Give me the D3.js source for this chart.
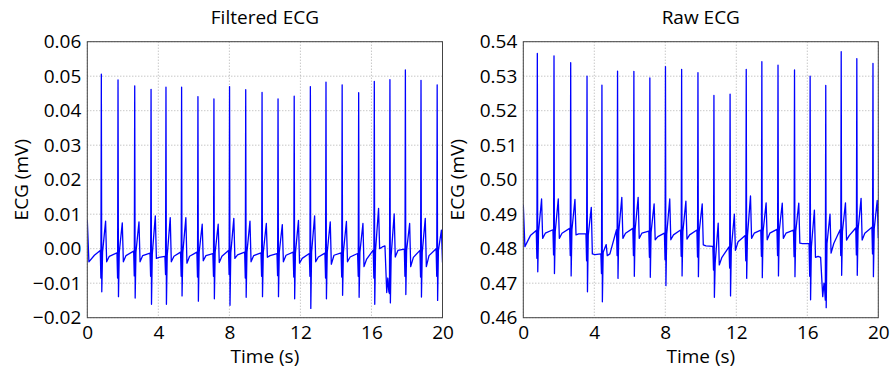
<!DOCTYPE html>
<html>
<head>
<meta charset="utf-8">
<script src="https://cdn.jsdelivr.net/npm/d3@7"></script>
<style>
  body { margin: 0; background: #fff; }
  text { font-family: "Open Sans", sans-serif; fill: #000; }
</style>
</head>
<body>
<div id="chart"></div>
<script>
// beat times (s), shared by both traces
const rTime = [0.79, 1.73, 2.67, 3.59, 4.43, 5.31, 6.23, 7.13, 8.01, 8.92, 9.84,
               10.74, 11.65, 12.56, 13.44, 14.35, 15.28, 16.16, 17.04, 17.91, 18.79, 19.70];

const xTicks = [0, 4, 8, 12, 16, 20];
const filtYTicks = [-0.02, -0.01, 0.00, 0.01, 0.02, 0.03, 0.04, 0.05, 0.06];
const rawYTicks = [0.46, 0.47, 0.48, 0.49, 0.50, 0.51, 0.52, 0.53, 0.54];

// filtered ECG, values read per beat
const filtR   = [0.0506, 0.0489, 0.0472, 0.0462, 0.0468, 0.0468, 0.0441, 0.0434, 0.0470, 0.0461, 0.0453,
                 0.0434, 0.0442, 0.0470, 0.0483, 0.0475, 0.0452, 0.0485, 0.0490, 0.0518, 0.0488, 0.0475];
const filtQ   = [-0.0085, -0.0085, -0.0079, -0.0080, -0.0075, -0.0080, -0.0082, -0.0080, -0.0075, -0.0085, -0.0080,
                 -0.0078, -0.0082, -0.0080, -0.0085, -0.0082, -0.0080, -0.0085, -0.0130, -0.0080, -0.0082, -0.0080];
const filtS   = [-0.0125, -0.0139, -0.0143, -0.0161, -0.0161, -0.0137, -0.0152, -0.0145, -0.0164, -0.0141, -0.0139,
                 -0.0139, -0.0145, -0.0173, -0.0145, -0.0135, -0.0141, -0.0161, -0.0157, -0.0133, -0.0140, -0.0150];
const filtJ   = [-0.0010, -0.0010, -0.0010, -0.0015, -0.0020, -0.0010, -0.0010, -0.0010, -0.0012, -0.0010, -0.0010,
                 -0.0010, -0.0012, -0.0010, -0.0010, -0.0010, -0.0010, -0.0005, -0.0020, -0.0005, -0.0010, -0.0005];
const filtT   = [0.0080, 0.0075, 0.0078, 0.0095, 0.0090, 0.0090, 0.0071, 0.0071, 0.0088, 0.0080, 0.0073,
                 0.0070, 0.0082, 0.0095, 0.0078, 0.0079, 0.0073, 0.0117, 0.0101, 0.0073, 0.0088, 0.0054];
const filtTr  = [-0.0038, -0.0038, -0.0038, -0.0028, -0.0038, -0.0042, -0.0035, -0.0040, -0.0028, -0.0038, -0.0025,
                 -0.0038, -0.0042, -0.0038, -0.0045, -0.0038, -0.0052, 0.0000, -0.0024, -0.0052, -0.0052, -0.0040];
const filtRec = [-0.0022, -0.0020, -0.0020, -0.0025, -0.0022, -0.0022, -0.0020, -0.0022, -0.0018, -0.0020, -0.0020,
                 -0.0019, -0.0028, -0.0024, -0.0019, -0.0024, -0.0030, 0.0005, -0.0005, -0.0025, -0.0020, -0.0020];
const filtPre = [-0.0005, -0.0012, -0.0007, -0.0013, -0.0022, -0.0010, -0.0010, -0.0014, -0.0005, -0.0010, -0.0012,
                 -0.0014, -0.0010, -0.0014, -0.0013, -0.0012, -0.0014, -0.0004, -0.0125, -0.0001, -0.0005, 0.0000];
const filtLead  = [[0, 0.0083], [0.09, -0.0038], [0.40, -0.0019]];
const filtExtra = [[16.76, 0.0008], [16.86, -0.0127], [16.92, -0.0085]];

// raw ECG, values read per beat
const rawR   = [0.5366, 0.5359, 0.5339, 0.5300, 0.5274, 0.5315, 0.5314, 0.5295, 0.5328, 0.5320, 0.5310,
                0.5244, 0.5248, 0.5320, 0.5342, 0.5332, 0.5318, 0.5300, 0.5273, 0.5371, 0.5351, 0.5337];
const rawQ   = [0.4772, 0.4782, 0.4780, 0.4765, 0.4728, 0.4780, 0.4780, 0.4775, 0.4768, 0.4778, 0.4776,
                0.4738, 0.4744, 0.4765, 0.4778, 0.4780, 0.4777, 0.4720, 0.4651, 0.4780, 0.4782, 0.4785];
const rawS   = [0.4733, 0.4728, 0.4721, 0.4675, 0.4646, 0.4714, 0.4720, 0.4717, 0.4693, 0.4721, 0.4719,
                0.4659, 0.4663, 0.4714, 0.4716, 0.4721, 0.4719, 0.4652, 0.4629, 0.4723, 0.4723, 0.4719];
const rawJ   = [0.4850, 0.4850, 0.4855, 0.4840, 0.4790, 0.4850, 0.4855, 0.4848, 0.4842, 0.4850, 0.4850,
                0.4758, 0.4800, 0.4838, 0.4850, 0.4852, 0.4850, 0.4805, 0.4815, 0.4850, 0.4855, 0.4858];
const rawT   = [0.4944, 0.4944, 0.4943, 0.4920, 0.4812, 0.4949, 0.4949, 0.4930, 0.4944, 0.4938, 0.4930,
                0.4874, 0.4900, 0.4953, 0.4933, 0.4932, 0.4932, 0.4912, 0.4900, 0.4933, 0.4946, 0.4940];
const rawTr  = [0.4830, 0.4830, 0.4840, 0.4785, 0.4780, 0.4830, 0.4830, 0.4826, 0.4826, 0.4828, 0.4811,
                0.4753, 0.4795, 0.4830, 0.4826, 0.4830, 0.4816, 0.4775, 0.4787, 0.4825, 0.4825, 0.4830];
const rawRec = [0.4845, 0.4845, 0.4843, 0.4783, 0.4785, 0.4845, 0.4845, 0.4835, 0.4840, 0.4840, 0.4808,
                0.4775, 0.4820, 0.4845, 0.4845, 0.4845, 0.4815, 0.4778, 0.4815, 0.4838, 0.4845, 0.4845];
const rawPre = [0.4853, 0.4855, 0.4859, 0.4843, 0.4785, 0.4855, 0.4859, 0.4851, 0.4845, 0.4854, 0.4854,
                0.4807, 0.4805, 0.4838, 0.4854, 0.4856, 0.4854, 0.4815, 0.4680, 0.4855, 0.4860, 0.4862];
const rawLead  = [[0, 0.4927], [0.09, 0.4806], [0.40, 0.4838]];
const rawExtra = [[16.75, 0.4775], [16.87, 0.4661], [16.94, 0.4700]];

const W = 895, H = 369;
const plotTop = 41.7, plotBottom = 317.7;

// stitch the per-beat readings into one trace (time offsets from the R peak)
function buildTrace(lead, extra, R, Q, S, J, T, Tr, Rec, Pre) {
  let pts = lead.map(p => ({t: p[0], v: p[1]}));
  rTime.forEach((tr, i) => {
    pts.push({t: tr - 0.06, v: Pre[i]});
    pts.push({t: tr - 0.025, v: Q[i]});
    pts.push({t: tr, v: R[i]});
    pts.push({t: tr + 0.025, v: S[i]});
    pts.push({t: tr + 0.07, v: J[i]});
    pts.push({t: tr + 0.24, v: T[i]});
    pts.push({t: tr + 0.30, v: Tr[i]});
    pts.push({t: tr + 0.45, v: Rec[i]});
  });
  extra.forEach(p => pts.push({t: p[0], v: p[1]}));
  pts = pts.filter(d => d.t <= 20);
  pts.sort((a, b) => a.t - b.t);
  return pts;
}

const panels = [
  {id: "f", title: "Filtered ECG", x0: 87.3, x1: 442.5, domain: [-0.02, 0.06], ticks: filtYTicks,
   data: buildTrace(filtLead, filtExtra, filtR, filtQ, filtS, filtJ, filtT, filtTr, filtRec, filtPre)},
  {id: "r", title: "Raw ECG", x0: 523.3, x1: 878.3, domain: [0.46, 0.54], ticks: rawYTicks,
   data: buildTrace(rawLead, rawExtra, rawR, rawQ, rawS, rawJ, rawT, rawTr, rawRec, rawPre)}
];

const svg = d3.select("#chart").append("svg")
  .attr("width", W)
  .attr("height", H);

const fmt = d3.format(".2f");

panels.forEach(p => {
  let x = d3.scaleLinear().domain([0, 20]).range([p.x0, p.x1]);
  let y = d3.scaleLinear().domain(p.domain).range([plotBottom, plotTop]);
  let g = svg.append("g");

  // grid
  g.selectAll(".gx").data(xTicks).enter().append("line")
    .attr("x1", d => x(d)).attr("x2", d => x(d))
    .attr("y1", plotTop).attr("y2", plotBottom)
    .attr("stroke", "#9a9a9a").attr("stroke-width", 0.8).attr("stroke-dasharray", "1,2");
  g.selectAll(".gy").data(p.ticks).enter().append("line")
    .attr("x1", p.x0).attr("x2", p.x1)
    .attr("y1", d => y(d)).attr("y2", d => y(d))
    .attr("stroke", "#9a9a9a").attr("stroke-width", 0.8).attr("stroke-dasharray", "1,2");

  // trace
  svg.append("clipPath").attr("id", "clip-" + p.id)
    .append("rect").attr("x", p.x0).attr("y", plotTop)
    .attr("width", p.x1 - p.x0).attr("height", plotBottom - plotTop);

  let line = d3.line().x(d => x(d.t)).y(d => y(d.v));
  g.append("path")
    .datum(p.data)
    .attr("clip-path", "url(#clip-" + p.id + ")")
    .attr("fill", "none")
    .attr("stroke", "#0000ff")
    .attr("stroke-width", 1.3)
    .attr("stroke-linejoin", "round")
    .attr("d", line);

  // frame
  g.append("rect")
    .attr("x", p.x0).attr("y", plotTop)
    .attr("width", p.x1 - p.x0).attr("height", plotBottom - plotTop)
    .attr("fill", "none").attr("stroke", "#444").attr("stroke-width", 1);

  // axes
  let xAxis = d3.axisBottom(x).tickValues(xTicks).tickSize(0).tickPadding(8);
  let gx = g.append("g").attr("transform", "translate(0," + plotBottom + ")").call(xAxis);
  gx.select(".domain").remove();
  gx.selectAll("text").attr("font-size", 19).attr("font-family", null).attr("dy", null)
    .attr("y", 21.5);

  let yAxis = d3.axisLeft(y).tickValues(p.ticks).tickSize(0).tickPadding(6).tickFormat(fmt);
  let gy = g.append("g").attr("transform", "translate(" + p.x0 + ",0)").call(yAxis);
  gy.select(".domain").remove();
  gy.selectAll("text").attr("font-size", 19).attr("font-family", null);

  // labels
  g.append("text")
    .attr("x", (p.x0 + p.x1) / 2).attr("y", 24)
    .attr("text-anchor", "middle").attr("font-size", 19)
    .text(p.title);

  g.append("text")
    .attr("x", (p.x0 + p.x1) / 2).attr("y", 363)
    .attr("text-anchor", "middle").attr("font-size", 19)
    .text("Time (s)");

  g.append("text")
    .attr("transform", "translate(" + (p.x0 - 59) + "," + ((plotTop + plotBottom) / 2) + ") rotate(-90)")
    .attr("text-anchor", "middle").attr("font-size", 19)
    .text("ECG (mV)");
});
</script>
</body>
</html>
